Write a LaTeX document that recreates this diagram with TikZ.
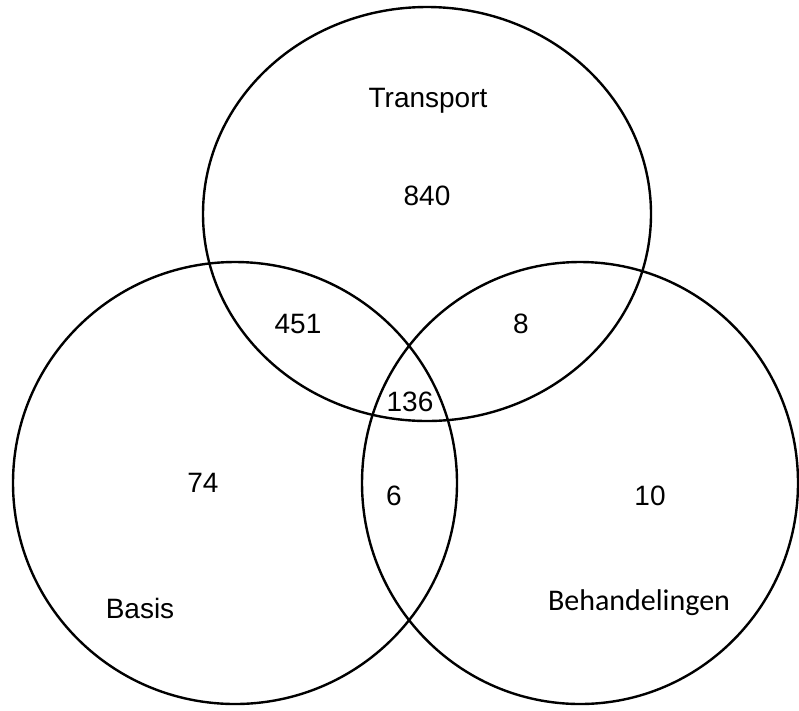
\documentclass[tikz,border=0pt]{standalone}
\usepackage{fontspec}
\setmainfont{Liberation Sans}
\newfontfamily\calib{Carlito}
\begin{document}
\begin{tikzpicture}[x=1pt,y=-1pt,
  venn/.style={draw=black,line width=2.4pt},
  lab/.style={font=\fontsize{28}{32}\selectfont,inner sep=0pt,anchor=center}]
\useasboundingbox (0,0) rectangle (799,710);
\fill[white] (0,0) rectangle (799,710);
\draw[venn] (427,214) ellipse [x radius=224, y radius=207];
\draw[venn] (235,483) ellipse [x radius=222, y radius=221];
\draw[venn] (580,483) ellipse [x radius=218, y radius=221];
\node[lab] (transport) at (428,101) {Transport};
\node[lab] (n840) at (427,196) {840};
\node[lab] (n451) at (298,324) {451};
\node[lab] (n8) at (521,324) {8};
\node[lab] (n136) at (410,402) {136};
\node[lab] (n74) at (203,483) {74};
\node[lab] (n6) at (394,496) {6};
\node[lab] (n10) at (650,496) {10};
\node[lab] (basis) at (140,608) {Basis};
\node[lab,font=\calib\fontsize{30}{34}\selectfont] (beh) at (639,603) {Behandelingen};
\end{tikzpicture}
\end{document}
